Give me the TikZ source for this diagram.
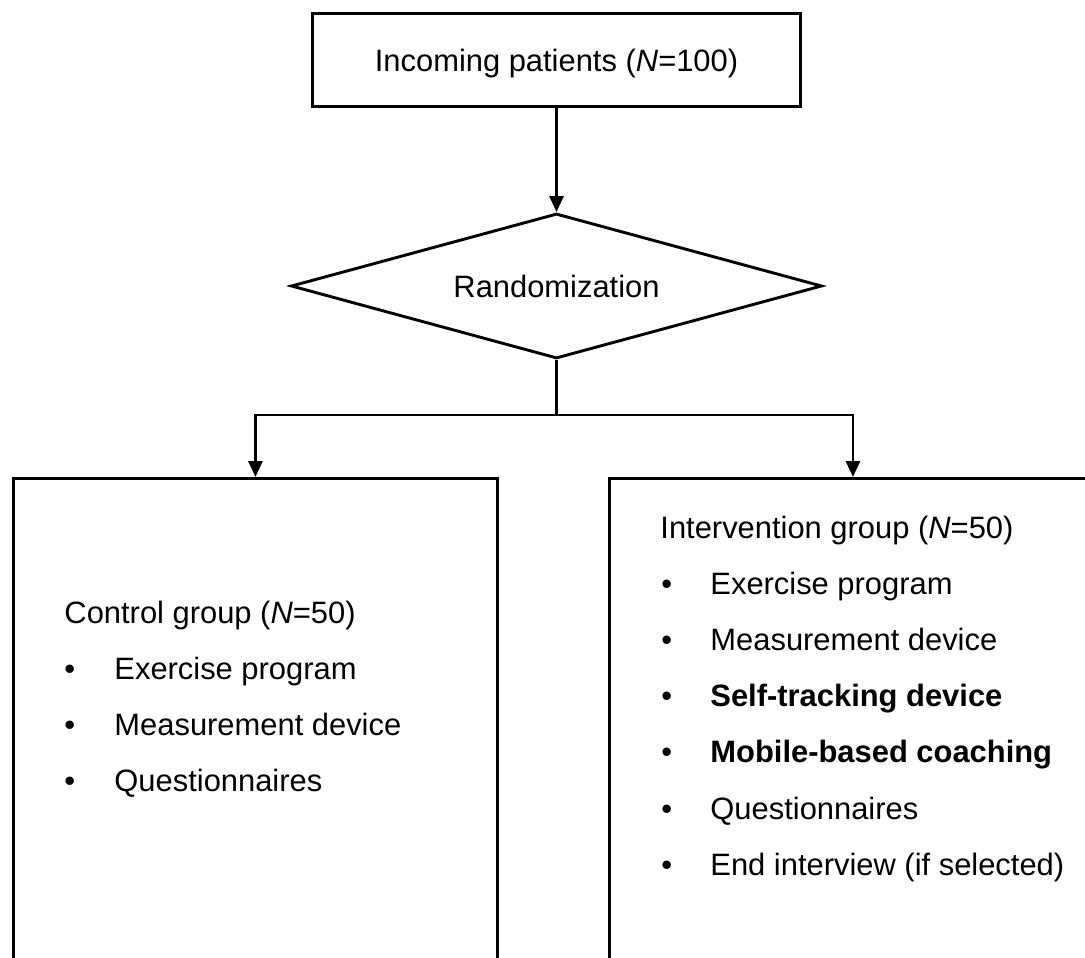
\documentclass[tikz,border=0pt]{standalone}
\usepackage{fontspec}
\setmainfont{Liberation Sans}
\usetikzlibrary{shapes.geometric,arrows.meta}
\begin{document}
\begin{tikzpicture}[x=1pt,y=-1pt,line width=2.9pt,
  box/.style={draw,rectangle,inner sep=0pt},
  arr/.style={-{Triangle[length=16pt,width=14pt]}},
  big/.style={font=\fontsize{30.9}{37}\selectfont},
  txt/.style={big,anchor=base west,inner sep=0pt}]
\useasboundingbox (0,0) rectangle (1085,958);
\clip (0,0) rectangle (1085,958);
% nodes
\node[box,big,minimum width=488pt,minimum height=93pt,text height=22pt,text depth=0pt] (top) at (556.5,60)
  {Incoming patients (\textit{N}=100)};
\node[draw,diamond,aspect=3.6,big,inner sep=0pt,minimum width=531pt,minimum height=145pt] (rand) at (556.5,286)
  {Randomization};
\node[box,anchor=north west,minimum width=484pt,minimum height=600pt] (ctrl) at (12,477) {};
\node[box,anchor=north west,minimum width=487pt,minimum height=600pt] (intv) at (608,477) {};
% connectors
\draw[arr] (top) -- (rand);
\path (rand.south) ++(0,55) coordinate (split);
\draw (rand.south) -- (split);
\draw[arr] (split) -| (ctrl.north);
\draw[arr] (split) -| (intv.north);
% control group text
\node[txt] (ch) at (63,623) {Control group (\textit{N}=50)};
\node[txt] (cb1) at (63,679.5) {•};
\node[txt] (ci1) at (113,679.5) {Exercise program};
\node[txt] (cb2) at (63,735.5) {•};
\node[txt] (ci2) at (113,735.5) {Measurement device};
\node[txt] (cb3) at (63,791.5) {•};
\node[txt] (ci3) at (113,791.5) {Questionnaires};
% intervention group text
\node[txt] (ih) at (659,538) {Intervention group (\textit{N}=50)};
\node[txt] (ib1) at (660,594.2) {•};
\node[txt] (ii1) at (709,594.2) {Exercise program};
\node[txt] (ib2) at (660,650.4) {•};
\node[txt] (ii2) at (709,650.4) {Measurement device};
\node[txt] (ib3) at (660,706.6) {•};
\node[txt] (ii3) at (709,706.6) {\textbf{Self-tracking device}};
\node[txt] (ib4) at (660,762.8) {•};
\node[txt] (ii4) at (709,762.8) {\textbf{Mobile-based coaching}};
\node[txt] (ib5) at (660,819) {•};
\node[txt] (ii5) at (709,819) {Questionnaires};
\node[txt] (ib6) at (660,875.2) {•};
\node[txt] (ii6) at (709,875.2) {End interview (if selected)};
\end{tikzpicture}
\end{document}
